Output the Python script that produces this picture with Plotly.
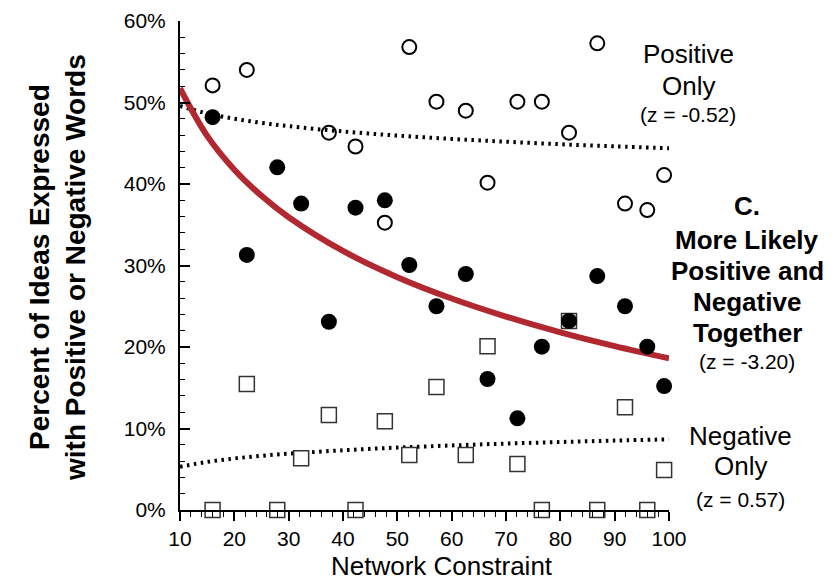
import plotly.graph_objects as go

# ---- data ----
constraint = [16, 22.3, 27.9, 32.3, 37.4, 42.3, 47.7, 52.2, 57.2, 62.6,
              66.6, 72.1, 76.6, 81.6, 86.8, 91.9, 96.0, 99.1]
positive_only = [0.521, 0.540, None, None, 0.463, 0.446, 0.3525, 0.568, 0.501, 0.490,
                 0.4016, 0.501, 0.501, 0.463, 0.5726, 0.376, 0.368, 0.411]
together = [0.482, 0.313, 0.4205, 0.376, 0.231, 0.371, 0.380, 0.3006, 0.250, 0.2896,
            0.1607, 0.1125, 0.2004, 0.232, 0.287, 0.250, 0.2004, 0.152]
negative_only = [0.0, 0.1546, 0.0, 0.0634, 0.1166, 0.0, 0.109, 0.0675, 0.151, 0.0675,
                 0.201, 0.0564, 0.0, 0.232, 0.0, 0.126, 0.0, 0.049]

# fitted curves at these x positions
fit_x = [10, 15, 20, 25, 30, 40, 50, 60, 70, 80, 90, 100]
fit_together = [0.5175, 0.459, 0.4176, 0.3855, 0.3592, 0.3178, 0.2857, 0.2595, 0.2373, 0.218, 0.201, 0.186]
fit_positive = [0.4957, 0.4866, 0.4801, 0.4750, 0.4709, 0.4645, 0.4594, 0.4553, 0.4519, 0.4488, 0.4462, 0.4438]
fit_negative = [0.0531, 0.0590, 0.0632, 0.0665, 0.0691, 0.0733, 0.0766, 0.0792, 0.0815, 0.0834, 0.0852, 0.0867]

x_ticks = [10, 20, 30, 40, 50, 60, 70, 80, 90, 100]
y_ticks = [0, 0.1, 0.2, 0.3, 0.4, 0.5, 0.6]
y_tick_labels = ["0%", "10%", "20%", "30%", "40%", "50%", "60%"]

FONT = "Liberation Sans, Arial, sans-serif"
RED = "rgb(178,40,48)"

fig = go.Figure()

dot_line = dict(color="black", width=4, dash="2.5px,4.5px", shape="spline")
fig.add_trace(go.Scatter(x=fit_x, y=fit_positive, mode="lines", line=dot_line, hoverinfo="skip"))
fig.add_trace(go.Scatter(x=fit_x, y=fit_negative, mode="lines", line=dot_line, hoverinfo="skip"))
fig.add_trace(go.Scatter(x=fit_x, y=fit_together, mode="lines",
                         line=dict(color=RED, width=6, shape="spline"), hoverinfo="skip"))

fig.add_trace(go.Scatter(x=constraint, y=negative_only, mode="markers", cliponaxis=False,
                         marker=dict(symbol="square", size=15, color="white",
                                     line=dict(color="#333333", width=1.5))))
fig.add_trace(go.Scatter(x=constraint, y=together, mode="markers", cliponaxis=False,
                         marker=dict(symbol="circle", size=16, color="black",
                                     line=dict(width=0))))
fig.add_trace(go.Scatter(x=constraint, y=positive_only, mode="markers", cliponaxis=False,
                         marker=dict(symbol="circle-open", size=14, color="black",
                                     line=dict(color="black", width=2))))

# page pixel -> paper coordinates (plot area spans page x 180..669, y 21..510)
def px_x(p):
    return (p - 180) / 489.0

def px_y(p):
    return (510 - p) / 489.0

annotations = []
def add_text(text, xpix, ypix, size, bold=False):
    t = "<b>%s</b>" % text if bold else text
    annotations.append(dict(text=t, xref="paper", yref="paper", x=px_x(xpix), y=px_y(ypix),
                            xanchor="center", yanchor="middle", showarrow=False,
                            font=dict(family=FONT, size=size, color="black")))

add_text("Positive", 688, 54, 26)
add_text("Only", 688, 86, 26)
add_text("(z = -0.52)", 688, 115, 21)

add_text("C.", 747, 206, 26, bold=True)
add_text("More Likely", 747, 240, 26, bold=True)
add_text("Positive and", 747, 271, 26, bold=True)
add_text("Negative", 747, 302, 26, bold=True)
add_text("Together", 747, 333, 26, bold=True)
add_text("(z = -3.20)", 747, 361, 21)

add_text("Negative", 740, 436, 26)
add_text("Only", 740, 466, 26)
add_text("(z = 0.57)", 740, 499, 21)

# y axis title
annotations.append(dict(text="<b>Percent of Ideas Expressed<br>with Positive or Negative Words</b>",
                        xref="paper", yref="paper", x=px_x(57), y=px_y(268),
                        xanchor="center", yanchor="middle", textangle=-90, showarrow=False,
                        font=dict(family=FONT, size=28, color="black")))
# x axis title
annotations.append(dict(text="Network Constraint", xref="paper", yref="paper",
                        x=px_x(442), y=px_y(566), xanchor="center", yanchor="middle",
                        showarrow=False, font=dict(family=FONT, size=26, color="black")))

# the page body adds an 8px margin, so the figure is 8px smaller than the window
fig.update_layout(
    width=829, height=574,
    margin=dict(l=172, r=168, t=13, b=72, autoexpand=False),
    paper_bgcolor="white", plot_bgcolor="white",
    showlegend=False,
    font=dict(family=FONT, color="black"),
    annotations=annotations,
    xaxis=dict(range=[10, 100], tickvals=x_ticks, ticks="outside", ticklen=9, tickwidth=1.5,
               tickcolor="black", showline=True, linecolor="black", linewidth=2,
               showgrid=False, zeroline=False, tickfont=dict(size=21), automargin=False,
               minor=dict(dtick=2, ticks="outside", ticklen=5, tickwidth=1.2, tickcolor="black",
                          showgrid=False)),
    yaxis=dict(range=[0, 0.6], tickvals=y_ticks, ticktext=y_tick_labels, ticks="inside",
               ticklen=10, tickwidth=1.5, tickcolor="black", showline=True, linecolor="black",
               linewidth=2, showgrid=False, zeroline=False, tickfont=dict(size=21),
               ticklabelstandoff=8, automargin=False,
               minor=dict(dtick=0.02, ticks="inside", ticklen=5, tickwidth=1.2, tickcolor="black",
                          showgrid=False)),
)

fig.write_html("out.html")
